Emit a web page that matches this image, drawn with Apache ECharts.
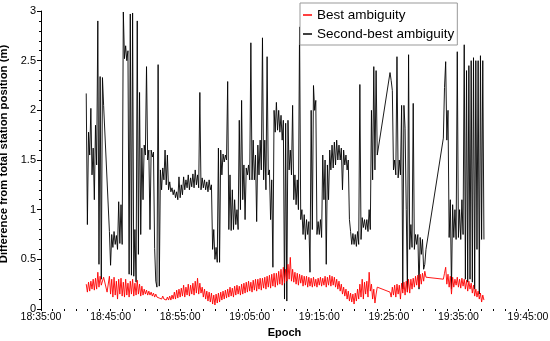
<!DOCTYPE html>
<html>
<head>
<meta charset="utf-8">
<script src="https://cdn.jsdelivr.net/npm/echarts@6/dist/echarts.min.js"></script>
<style>
  html, body { margin: 0; padding: 0; background: #fff; }
  #chart { width: 550px; height: 341px; }
</style>
</head>
<body>
<div id="chart"></div>
<script>
// Epoch axis: seconds after 18:35:00, labelled every 10 minutes
const tickLabels = ['18:35:00', '18:45:00', '18:55:00', '19:05:00', '19:15:00', '19:25:00', '19:35:00', '19:45:00'];

// Samples: one column every 20 s starting at 18:41:30, two readings per column (null = no solution)
const sampleStart = 390;
const sampleStep = 20;

const seriesNames = ['Best ambiguity', 'Second-best ambiguity'];

// Second-best ambiguity: first and second reading of each column (m)
const secondBestA = [
  2.17, 1.78, 2.02, 1.62, 1.85, 2.90, 2.34, 2.33, null, null,
  0.78, 0.75, 0.78, 0.74, 1.08, 1.05, 2.99, 2.65, 2.60, 2.97,
  2.98, 0.80, 2.90, 2.18, 1.62, 1.65, 2.44, 1.60, 1.60, 1.58,
  0.28, 2.46, 1.40, 1.42, 1.60, 1.55, 1.28, 1.22, 1.20, 1.18,
  1.33, 1.25, 1.33, 1.30, 1.35, 1.32, 1.36, 1.40, 1.35, 2.18,
  1.32, 1.30, 1.28, 1.30, 1.25, 0.80, 0.62, 1.62, 1.60, 1.56,
  1.55, 2.29, 1.35, 1.20, 1.10, 1.00, 1.90, 2.10, 1.45, 1.42,
  1.45, 2.68, 1.70, 1.55, 1.65, 1.70, 2.73, 1.70, 2.54, 1.40,
  1.30, 2.00, 2.08, 2.00, 1.95, 1.90, 1.87, 1.90, 1.60, 2.05,
  1.35, 1.30, 2.84, 1.00, 0.95, 0.90, 0.88, 2.00, 2.25, 2.10,
  0.88, 0.90, 1.55, 1.50, 1.45, 1.60, 1.65, 1.68, 1.70, 1.65,
  1.62, 1.60, 1.55, 1.50, 0.78, 0.76, 0.75, 0.78, 2.26, 0.92,
  0.90, 0.90, 1.00, 2.00, 2.44, 2.40, null, null, null, null,
  null, 2.38, 2.20, 1.50, 2.54, 1.50, 2.05, 2.05, 1.00, 2.56,
  0.85, 2.07, 0.75, 0.75, 0.72, 0.70, 0.45, null, null, null,
  null, null, null, null, 1.72, 2.49, 2.00, 1.10, 1.05, 1.00,
  2.59, 1.00, 1.10, 2.66, 2.40, 2.45, 2.50, 2.53, 2.50, 2.50,
  2.55, 2.50
];
const secondBestB = [
  0.85, 1.55, 1.35, 1.10, 1.45, 0.45, 0.30, 2.05, null, null,
  0.44, 0.62, 0.65, 0.60, 0.66, 0.65, 2.52, 2.50, 0.35, 0.34,
  0.33, 0.27, 0.55, 0.75, 1.10, 1.55, 1.50, 0.80, 1.53, 0.61,
  0.22, 0.23, 1.20, 1.30, 1.25, 1.20, 1.18, 1.15, 1.12, 1.10,
  1.12, 1.15, 1.20, 1.22, 1.20, 1.23, 1.22, 1.25, 1.22, 1.20,
  1.22, 1.20, 1.18, 1.20, 0.60, 0.50, 0.47, 0.47, 1.35, 1.48,
  1.50, 0.80, 0.79, 0.80, 0.85, 0.80, 1.00, 1.10, 0.90, 1.35,
  1.30, 1.30, 1.30, 0.88, 1.35, 1.40, 1.30, 1.20, 1.35, 0.90,
  0.42, 1.78, 1.80, 1.78, 1.70, 0.10, 0.08, 1.40, 1.35, 1.10,
  1.05, 1.00, 0.90, 0.75, 0.70, 0.75, 0.37, 0.80, 2.00, 0.75,
  0.75, 0.72, 1.10, 0.45, 1.10, 1.40, 1.42, 1.45, 1.50, 1.50,
  1.20, 1.45, 1.40, 0.90, 0.65, 0.65, 0.63, 0.65, 0.70, 0.82,
  0.80, 0.78, 0.80, 1.30, 1.40, 1.55, null, null, null, null,
  null, 2.30, 1.40, 1.35, 1.32, 1.35, 0.20, 1.82, 0.17, 0.60,
  0.62, 0.60, 0.65, 0.20, 0.55, 0.40, 0.60, null, null, null,
  null, null, null, null, 2.23, 1.70, 0.72, 0.20, 0.72, 0.70,
  0.72, 0.70, 0.75, 0.30, 0.27, 0.30, 0.27, 0.20, 0.60, 0.15,
  0.70, 0.70
];

// Best ambiguity: first and second reading of each column (m)
const bestA = [
  0.25, 0.27, 0.28, 0.30, 0.31, 0.37, 0.33, 0.22, null, 0.17,
  0.33, 0.30, 0.32, 0.28, 0.30, 0.31, 0.27, 0.30, 0.26, 0.28,
  0.30, 0.26, 0.29, 0.25, 0.23, 0.20, 0.19, 0.18, 0.17, 0.16,
  0.15, 0.14, 0.13, 0.13, 0.12, 0.12, 0.13, 0.14, 0.17, 0.19,
  0.20, 0.21, 0.24, 0.22, 0.25, 0.24, 0.26, 0.28, 0.31, 0.26,
  0.22, 0.20, 0.18, 0.17, 0.16, 0.14, 0.15, 0.16, 0.17, 0.18,
  0.19, 0.20, 0.22, 0.21, 0.23, 0.24, 0.23, 0.25, 0.26, 0.27,
  0.28, 0.27, 0.29, 0.30, 0.30, 0.31, 0.31, 0.32, 0.33, 0.34,
  0.35, 0.36, 0.36, 0.38, 0.40, 0.42, 0.40, 0.45, 0.52, 0.40,
  0.37, 0.36, 0.35, 0.34, 0.33, 0.33, 0.32, 0.31, 0.32, 0.30,
  0.31, 0.32, 0.31, 0.33, 0.32, 0.34, 0.33, 0.32, 0.30, 0.28,
  0.25, 0.22, 0.20, 0.18, 0.16, 0.15, 0.16, 0.20, 0.25, 0.30,
  0.27, 0.28, 0.37, 0.25, 0.20, 0.15, null, null, null, null,
  null, 0.17, 0.22, 0.24, 0.25, 0.24, 0.26, 0.27, 0.28, 0.30,
  0.30, 0.31, 0.33, 0.34, 0.35, 0.36, 0.38, null, null, null,
  null, null, null, null, 0.30, 0.42, 0.35, 0.33, 0.32, 0.30,
  0.32, 0.30, 0.31, 0.30, 0.29, 0.28, 0.26, 0.24, 0.20, 0.18,
  0.16, 0.14
];
const bestB = [
  0.17, 0.18, 0.20, 0.19, 0.20, 0.22, 0.24, 0.32, null, 0.15,
  0.15, 0.12, 0.14, 0.10, 0.15, 0.13, 0.12, 0.14, 0.12, 0.15,
  0.13, 0.14, 0.15, 0.13, 0.14, 0.15, 0.14, 0.14, 0.13, 0.12,
  0.12, 0.11, 0.10, 0.10, 0.09, 0.09, 0.09, 0.10, 0.10, 0.11,
  0.12, 0.13, 0.12, 0.14, 0.13, 0.15, 0.14, 0.16, 0.15, 0.16,
  0.12, 0.10, 0.08, 0.07, 0.05, 0.04, 0.06, 0.07, 0.09, 0.10,
  0.11, 0.12, 0.13, 0.12, 0.14, 0.15, 0.14, 0.15, 0.16, 0.17,
  0.18, 0.17, 0.19, 0.18, 0.20, 0.19, 0.21, 0.20, 0.22, 0.21,
  0.23, 0.22, 0.24, 0.25, 0.24, 0.26, 0.28, 0.30, 0.28, 0.27,
  0.25, 0.24, 0.26, 0.23, 0.24, 0.22, 0.23, 0.22, 0.23, 0.22,
  0.24, 0.23, 0.24, 0.22, 0.24, 0.23, 0.24, 0.22, 0.20, 0.18,
  0.15, 0.13, 0.10, 0.08, 0.07, 0.05, 0.08, 0.10, 0.12, 0.10,
  0.15, 0.12, 0.18, 0.10, 0.06, 0.22, null, null, null, null,
  null, 0.12, 0.14, 0.12, 0.15, 0.10, 0.16, 0.14, 0.17, 0.16,
  0.20, 0.22, 0.24, 0.22, 0.25, 0.28, 0.32, null, null, null,
  null, null, null, null, 0.36, 0.25, 0.22, 0.15, 0.22, 0.24,
  0.22, 0.21, 0.23, 0.20, 0.18, 0.20, 0.16, 0.13, 0.12, 0.10,
  0.07, 0.09
];

// Turn the two readings per column into [seconds, metres] points
function toPoints(first, second) {
  const pts = [];
  for (let i = 0; i < first.length; i++) {
    if (first[i] == null) continue;
    const t = sampleStart + i * sampleStep;
    pts.push([t, first[i]]);
    pts.push([t + sampleStep / 2, second[i]]);
  }
  return pts;
}

const font = '"Liberation Sans", Arial, Helvetica, sans-serif';
const chart = echarts.init(document.getElementById('chart'), null, { renderer: 'canvas' });

chart.setOption({
  animation: false,
  backgroundColor: '#fff',
  grid: { left: 41, top: 11, right: 22, bottom: 32, containLabel: false, outerBoundsMode: 'none' },
  legend: {
    data: [seriesNames[0], seriesNames[1]],
    orient: 'vertical',
    left: 300,
    top: 3,
    padding: [5, 3, 4, 3],
    itemGap: 5,
    itemWidth: 9,
    itemHeight: 1.5,
    icon: 'rect',
    borderColor: '#999',
    borderWidth: 1,
    backgroundColor: '#fff',
    z: 10,
    textStyle: { fontFamily: font, fontSize: 13.5, color: '#000' }
  },
  xAxis: {
    type: 'value',
    min: 0,
    max: 4200,
    interval: 600,
    name: 'Epoch',
    nameLocation: 'middle',
    nameGap: 16,
    nameTextStyle: { fontFamily: font, fontSize: 11, fontWeight: 'bold', color: '#000' },
    axisLine: { show: false },
    axisTick: { show: true, length: 2, lineStyle: { color: '#000', width: 1 } },
    minorTick: { show: true, splitNumber: 6, length: 2, lineStyle: { color: '#000', width: 1 } },
    splitLine: { show: false },
    axisLabel: {
      margin: 3,
      fontFamily: font,
      fontSize: 10.5,
      color: '#000',
      formatter: v => tickLabels[Math.round(v / 600)]
    }
  },
  yAxis: {
    type: 'value',
    min: 0,
    max: 3,
    interval: 0.5,
    name: 'Difference from total station position (m)',
    nameLocation: 'middle',
    nameGap: 23,
    nameTextStyle: { fontFamily: font, fontSize: 11.3, fontWeight: 'bold', color: '#000', padding: [0, 0, 0, 12] },
    axisLine: { show: true, lineStyle: { color: '#000', width: 1 } },
    axisTick: { show: true, length: 4, lineStyle: { color: '#000', width: 1 } },
    minorTick: { show: true, splitNumber: 5, length: 2, lineStyle: { color: '#000', width: 1 } },
    splitLine: { show: false },
    axisLabel: { margin: 5, fontFamily: font, fontSize: 11, color: '#000' }
  },
  series: [
    {
      name: seriesNames[1],
      type: 'line',
      data: toPoints(secondBestA, secondBestB),
      showSymbol: false,
      symbol: 'none',
      connectNulls: true,
      lineStyle: { color: '#000', width: 0.9 },
      itemStyle: { color: '#000' },
      z: 2
    },
    {
      name: seriesNames[0],
      type: 'line',
      data: toPoints(bestA, bestB),
      showSymbol: false,
      symbol: 'none',
      connectNulls: true,
      lineStyle: { color: '#ff0000', width: 0.9 },
      itemStyle: { color: '#ff0000' },
      z: 3
    }
  ]
});
</script>
</body>
</html>
